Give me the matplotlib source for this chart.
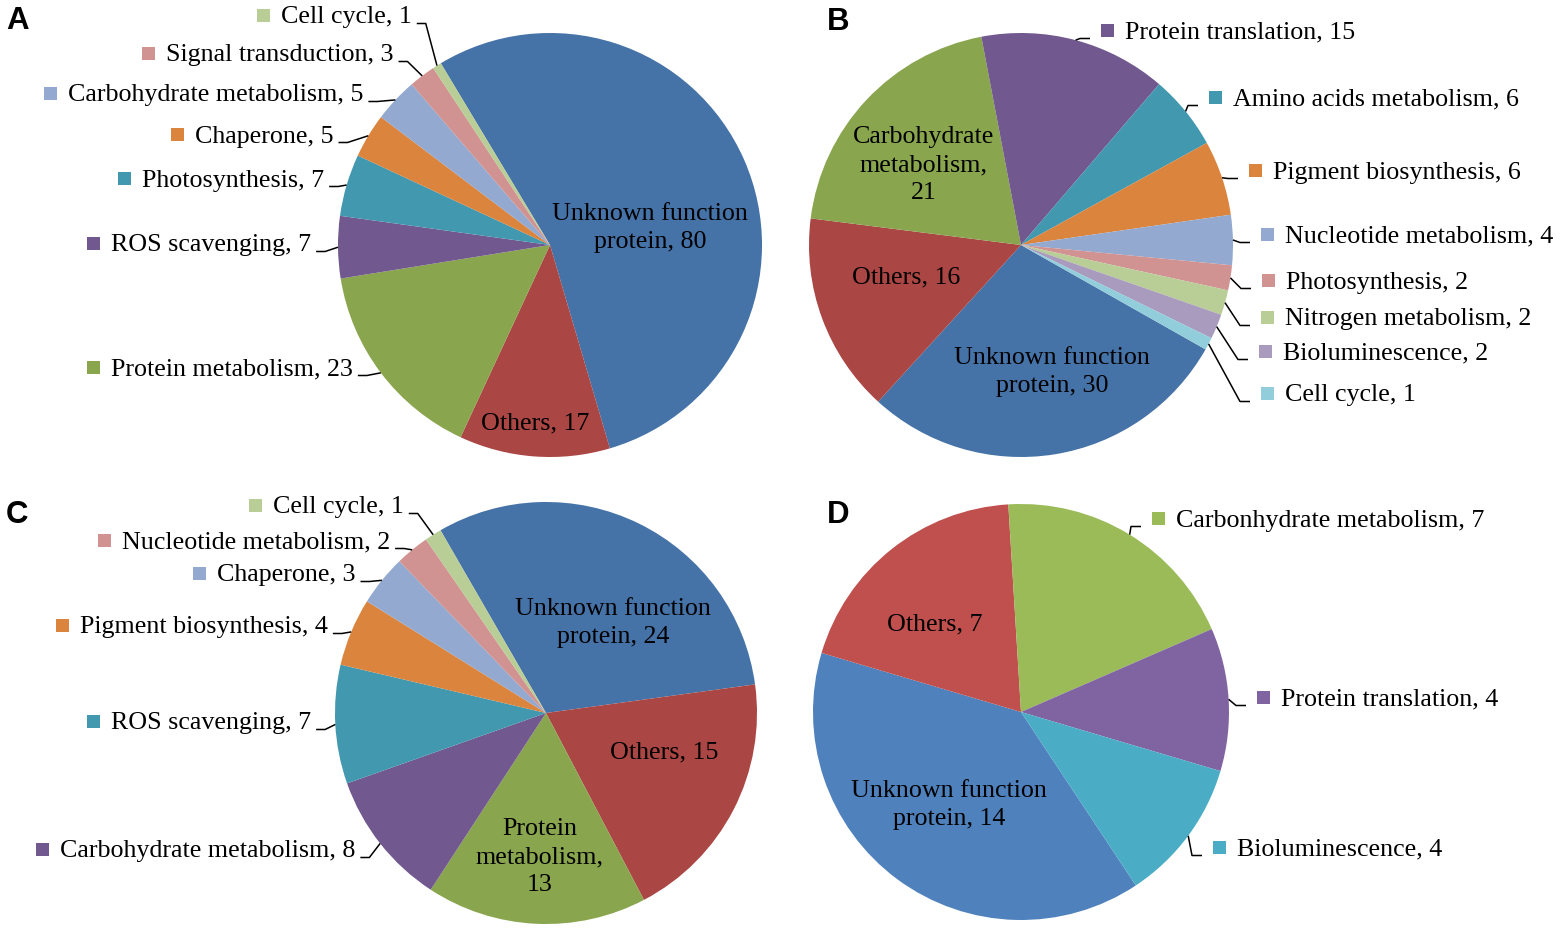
"""Four pie charts (A-D) of protein function categories."""

import numpy as np
import matplotlib
matplotlib.use('Agg')
import matplotlib.pyplot as plt
import matplotlib.patches as mpatches

# ---- data ----
# panel A
a_names = ['Unknown function\nprotein', 'Others', 'Protein metabolism', 'ROS scavenging',
           'Photosynthesis', 'Chaperone', 'Carbohydrate metabolism',
           'Signal transduction', 'Cell cycle']
a_values = [80, 17, 23, 7, 7, 5, 5, 3, 1]

# panel B
b_names = ['Unknown function\nprotein', 'Others', 'Carbohydrate\nmetabolism,\n',
           'Protein translation', 'Amino acids metabolism', 'Pigment biosynthesis',
           'Nucleotide metabolism', 'Photosynthesis', 'Nitrogen metabolism',
           'Bioluminescence', 'Cell cycle']
b_values = [30, 16, 21, 15, 6, 6, 4, 2, 2, 2, 1]

# panel C
c_names = ['Unknown function\nprotein', 'Others', 'Protein\nmetabolism,\n',
           'Carbohydrate metabolism', 'ROS scavenging', 'Pigment biosynthesis',
           'Chaperone', 'Nucleotide metabolism', 'Cell cycle']
c_values = [24, 15, 13, 8, 7, 4, 3, 2, 1]

# panel D
d_names = ['Unknown function\nprotein', 'Others', 'Carbonhydrate metabolism',
           'Protein translation', 'Bioluminescence']
d_values = [14, 7, 7, 4, 4]

# ---- styles ----
DARK = ['#4572A7', '#AA4643', '#89A54E', '#71588F', '#4198AF', '#DB843D',
        '#93A9CF', '#D19392', '#B9CD96', '#A99BBD', '#92CDDC']
BRIGHT = ['#4F81BD', '#C0504D', '#9BBB59', '#8064A2', '#4BACC6']

W, H = 1562, 934
FONT = 'Liberation Serif'
FS = 18.7

fig = plt.figure(figsize=(W / 100, H / 100), dpi=100)
ax = fig.add_axes([0, 0, 1, 1])
renderer = fig.canvas.get_renderer()


def reset_limits():
    ax.set_aspect('auto')
    ax.set_xlim(0, W)
    ax.set_ylim(H, 0)  # pixel coordinates, y down
    ax.axis('off')


def label_text(name, v):
    if name.endswith('\n'):
        return name + str(v)
    return '%s, %d' % (name, v)


def draw_panel(values, names, colors, cx, cy, r, theta0, places):
    """theta0: start of first slice, degrees clockwise from 12 o'clock"""
    ax.pie(values, colors=colors, startangle=theta0 - 90, counterclock=True,
           center=(cx, cy), radius=r, wedgeprops=dict(linewidth=0))
    reset_limits()
    total = float(sum(values))
    cum = np.concatenate([[0], np.cumsum(values)])
    for i, (name, v, col, place) in enumerate(zip(names, values, colors, places)):
        kind, px, py = place
        text = label_text(name, v)
        if kind == 'in':
            ax.text(px, py, text, ha='center', va='center', multialignment='center',
                    family=FONT, fontsize=FS, linespacing=1.35)
            continue
        # edge point at middle of the slice
        t = np.radians(theta0 + (cum[i] + v / 2.0) / total * 360.0)
        ex, ey = cx + r * np.sin(t), cy - r * np.cos(t)
        ax.add_patch(mpatches.Rectangle((px, py - 6.5), 13, 13, facecolor=col,
                                        edgecolor='none'))
        base = py + 8.5
        txt = ax.text(px + 24, base, text, ha='left', va='baseline',
                      family=FONT, fontsize=FS)
        if kind == 'left':
            x_end = txt.get_window_extent(renderer).x1
            xs = [x_end + 5, x_end + 14, ex]
            ys = [base, base, ey]
        else:
            xs = [ex, px - 21, px - 11]
            ys = [ey, base, base]
        ax.plot(xs, ys, color='k', lw=1.1, solid_capstyle='butt')


draw_panel(a_values, a_names, DARK, 550, 245, 212, -31,
           [('in', 650, 228), ('in', 535, 423), ('left', 87, 367), ('left', 87, 243),
            ('left', 118, 178), ('left', 171, 134), ('left', 44, 93),
            ('left', 142, 53), ('left', 257, 15)])

draw_panel(b_values, b_names, DARK, 1021, 245, 212, 119.5,
           [('in', 1052, 372), ('in', 906, 277), ('in', 924, 165),
            ('right', 1101, 30), ('right', 1209, 97), ('right', 1249, 170),
            ('right', 1261, 234), ('right', 1262, 280), ('right', 1261, 317),
            ('right', 1259, 351), ('right', 1261, 393)])

draw_panel(c_values, c_names, DARK, 546, 713, 211, -30,
           [('in', 613, 623), ('in', 664, 752), ('in', 540, 857), ('left', 36, 849),
            ('left', 87, 721), ('left', 56, 625), ('left', 193, 573),
            ('left', 98, 540), ('left', 249, 505)])

draw_panel(d_values, d_names, BRIGHT, 1021, 712, 208, 146.5,
           [('in', 949, 805), ('in', 935, 624), ('right', 1152, 518),
            ('right', 1257, 697), ('right', 1213, 847)])

# panel letters
for letter, x, y in [('A', 6, 29), ('B', 827, 30), ('C', 6, 523), ('D', 827, 523)]:
    ax.text(x, y, letter, ha='left', va='baseline', family='Liberation Sans',
            weight='bold', fontsize=22.5)

reset_limits()
plt.savefig('out.png', dpi=100)
